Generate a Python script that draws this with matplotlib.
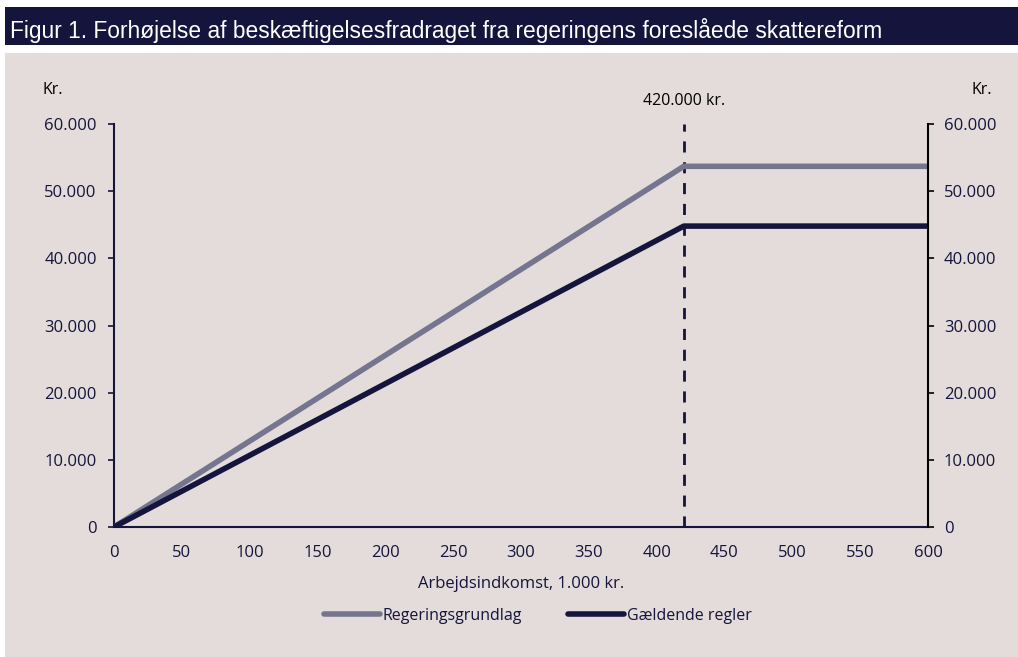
import matplotlib
matplotlib.use("Agg")
import matplotlib.pyplot as plt
from matplotlib.patches import Rectangle
from matplotlib.ticker import FuncFormatter

# Data
income = [0, 420, 600]                 # 1.000 kr.
regeringsgrundlag = [0, 53700, 53700]  # kr.
gaeldende = [0, 44800, 44800]          # kr.
kink = 420
xticks = list(range(0, 601, 50))
yticks = list(range(0, 60001, 10000))

NAVY = "#14143c"
GRAY = "#75758f"
BG = "#e4dcda"

plt.rcParams['font.family'] = ['Open Sans', 'DejaVu Sans']

fig = plt.figure(figsize=(10.18, 6.57), dpi=100)
fig.patch.set_facecolor("white")
# panel background
fig.add_artist(Rectangle((5/1018, 0), 1 - 5/1018, 1 - 53/657, transform=fig.transFigure,
                         facecolor=BG, edgecolor="none", zorder=0))
# header band
fig.add_artist(Rectangle((5/1018, 1 - 45/657), 1 - 5/1018, 38/657, transform=fig.transFigure,
                         facecolor=NAVY, edgecolor="none", zorder=0))
fig.text(10/1018, 1 - 38/657, "Figur 1. Forhøjelse af beskæftigelsesfradraget fra regeringens foreslåede skattereform",
         color="white", fontsize=16.4, va="baseline", ha="left",
         family=['Liberation Sans Narrow', 'Liberation Sans', 'DejaVu Sans'])

ax = fig.add_axes([114/1018, 1 - 527/657, (928 - 114)/1018, (527 - 124)/657])
ax.set_facecolor("none")
ax.plot(income, regeringsgrundlag, color=GRAY, lw=4, solid_capstyle="butt", label="Regeringsgrundlag", zorder=3)
ax.plot(income, gaeldende, color=NAVY, lw=4, solid_capstyle="butt", label="Gældende regler", zorder=4)
ax.axvline(kink, color=NAVY, lw=2, ls=(0, (4, 3.5)), zorder=2)
ax.text(kink, 62300, "420.000 kr.", ha="center", va="bottom", fontsize=11.5, color="black")

ax.set_xlim(0, 600)
ax.set_ylim(0, 60000)
ax.set_xticks(xticks)
ax.set_yticks(yticks)
fmt = FuncFormatter(lambda v, p: f"{int(v):,}".replace(",", "."))
ax.yaxis.set_major_formatter(fmt)

ax.spines["top"].set_visible(False)
ax.spines["right"].set_visible(False)
ax.spines["left"].set_color(NAVY)
ax.spines["bottom"].set_color(NAVY)
ax.spines["left"].set_linewidth(1.5)
ax.spines["bottom"].set_linewidth(1.5)
ax.tick_params(axis="x", length=0, pad=13, labelsize=12, labelcolor=NAVY)
ax.tick_params(axis="y", length=4.5, width=1.2, color=NAVY, pad=8, labelsize=12, labelcolor=NAVY)

ax2 = ax.twinx()
ax2.set_ylim(0, 60000)
ax2.set_yticks(yticks)
ax2.yaxis.set_major_formatter(fmt)
for s in ["top", "left", "bottom"]:
    ax2.spines[s].set_visible(False)
ax2.spines["right"].set_color("black")
ax2.spines["right"].set_linewidth(1.5)
ax2.tick_params(axis="y", length=4.5, width=1.2, color="black", pad=7, labelsize=12, labelcolor=NAVY)

fig.text(42/1018, 1 - 90/657, "Kr.", fontsize=11.5, color="black", ha="left", va="center")
fig.text(992/1018, 1 - 90/657, "Kr.", fontsize=11.5, color="black", ha="right", va="center")

ax.set_xlabel("Arbejdsindkomst, 1.000 kr.", fontsize=12, color=NAVY, labelpad=11)

leg = fig.legend(loc="center", bbox_to_anchor=(538/1018, 1 - 616/657), ncol=2, frameon=False,
                 fontsize=11.5, handlelength=3.5, handletextpad=0.15, columnspacing=2.9)
for t in leg.get_texts():
    t.set_color(NAVY)
for h in leg.legend_handles:
    h.set_solid_capstyle("round")

fig.savefig("out.png", dpi=100, facecolor=fig.get_facecolor())
